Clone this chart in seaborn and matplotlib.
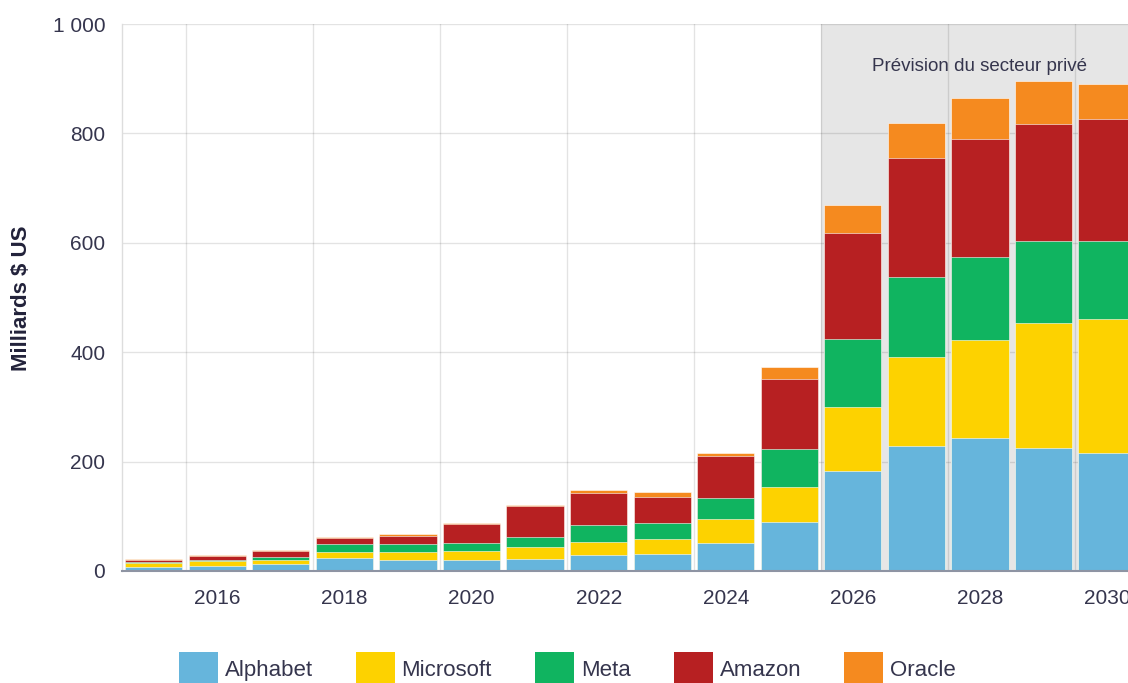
import numpy as np
import pandas as pd
import matplotlib
matplotlib.use("Agg")
import matplotlib.pyplot as plt
import seaborn as sns
from matplotlib.patches import Patch
from matplotlib.ticker import FixedLocator

# ---- data (billions US$) ----
years = list(range(2015, 2031))
alphabet = [8, 9, 12, 23, 21, 20, 22.5, 29, 31, 50.5, 89, 183, 229, 244, 224, 215]
microsoft = [6, 10, 8, 12, 14, 17, 22, 24.5, 27.5, 44.5, 65, 117, 163, 178, 230, 245]
meta = [3, 2, 6, 14, 15, 15, 18.5, 31.5, 28.5, 38, 69, 124, 146, 152.5, 150, 143]
amazon = [4, 7, 11, 12, 14.5, 34.5, 56, 58, 48, 77, 128, 194.5, 217.5, 215.5, 212.5, 223]
oracle = [1.5, 1.5, 2, 2, 2.5, 1.5, 2, 5, 9, 6, 22.5, 50.5, 63, 74, 79.5, 64]

series_names = ["Alphabet", "Microsoft", "Meta", "Amazon", "Oracle"]
series_values = [alphabet, microsoft, meta, amazon, oracle]
colors = ["#66b5dc", "#fdd200", "#10b460", "#b72022", "#f58a1f"]

xtick_years = [2016, 2018, 2020, 2022, 2024, 2026, 2028, 2030]
ytick_values = [0, 200, 400, 600, 800, 1000]
ytick_labels = ["0", "200", "400", "600", "800", "1 000"]
forecast_start = 2026
forecast_label = "Prévision du secteur privé"
y_label = "Milliards $ US"

# ---- style ----
sns.set_style("white")
plt.rcParams["font.family"] = ["Liberation Sans", "DejaVu Sans"]
text_color = "#35354d"

df = pd.DataFrame({"year": years})
for name, vals in zip(series_names, series_values):
    df[name] = vals
cum = df[series_names].cumsum(axis=1)

fig = plt.figure(figsize=(11.28, 6.83), dpi=100)
ax = fig.add_axes([122 / 1128, 1 - 571 / 683, 1 - 122 / 1128, (571 - 24) / 683])

# forecast band
ax.axvspan(forecast_start - 0.5, years[-1] + 1, color="#e6e6e6", zorder=0, lw=0)

# stacked bars: draw cumulative totals from the top series down
for name, col in reversed(list(zip(series_names, colors))):
    sns.barplot(x=df["year"], y=cum[name], native_scale=True, orient="x",
                color=col, saturation=1, width=0.9, ax=ax,
                edgecolor="white", linewidth=0.4, errorbar=None)

ax.set_xlim(2014.5, 2030.33)
ax.set_ylim(0, 1000)

ax.set_xticks(xtick_years)
ax.set_xticklabels([str(y) for y in xtick_years])
ax.xaxis.set_minor_locator(FixedLocator([y + 0.5 for y in range(2015, 2030, 2)]))
ax.set_yticks(ytick_values)
ax.set_yticklabels(ytick_labels)

ax.set_axisbelow(True)
ax.grid(False)
ax.yaxis.grid(True, color="black", alpha=0.11, lw=1)
ax.xaxis.grid(True, which="minor", color="black", alpha=0.11, lw=1)

ax.tick_params(axis="both", which="both", length=0)
ax.tick_params(axis="x", pad=13, labelsize=15, labelcolor=text_color)
ax.tick_params(axis="y", pad=12, labelsize=15, labelcolor=text_color)
ax.set_xlabel("")
ax.set_ylabel("")

for s in ["top", "right"]:
    ax.spines[s].set_visible(False)
ax.spines["left"].set_color("#dddddd")
ax.spines["left"].set_linewidth(1)
ax.spines["bottom"].set_color("#8e94a3")
ax.spines["bottom"].set_linewidth(1.5)

ax.text(2028, 923, forecast_label, ha="center", va="center",
        fontsize=13.5, color=text_color)

fig.text(22 / 1128, 1 - 298 / 683, y_label, rotation=90, ha="center", va="center",
         fontsize=16, fontweight="bold", color="#22223a")

handles = [Patch(facecolor=c, edgecolor="none") for c in colors]
fig.legend(handles, series_names, loc="center", bbox_to_anchor=(0.503, 0.02),
           ncol=5, frameon=False, fontsize=16, handlelength=1.75, handleheight=2.0,
           handletextpad=0.3, columnspacing=1.95, labelcolor=text_color,
           borderpad=0.2)

fig.savefig("out.png", dpi=100)
